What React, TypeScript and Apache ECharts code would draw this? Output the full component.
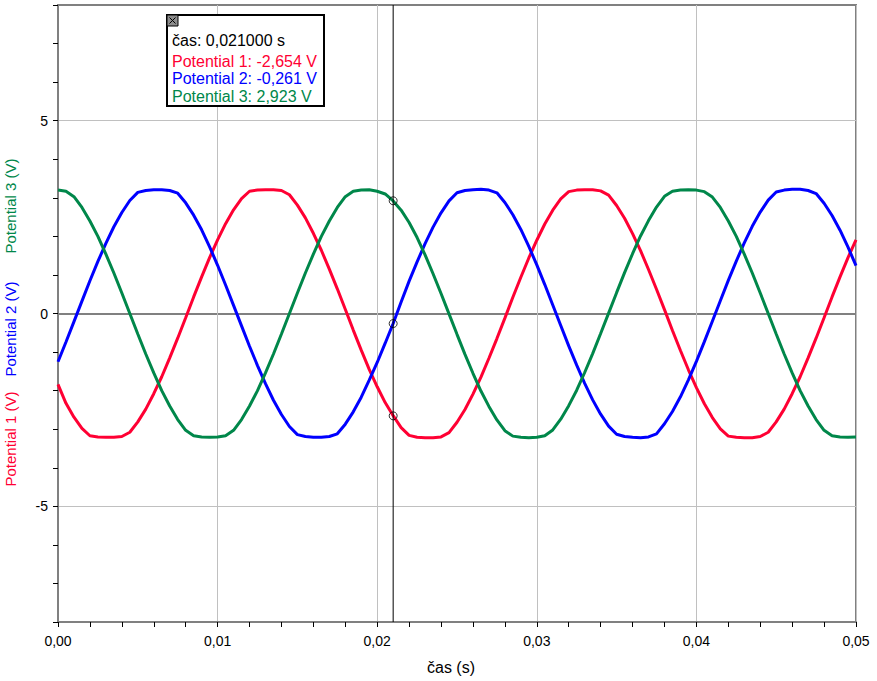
import React, { useEffect, useRef } from "react";
import * as echarts from "echarts";

// Sampling step of the recorded data (s)
const SAMPLE_STEP = 0.0005;
const SAMPLE_COUNT = 101;

// Potential 1 (V) – red
const potential1 = [
  -1.84, -2.33, -2.69, -2.98, -3.17, -3.2, -3.21, -3.21, -3.19, -3.08,
  -2.81, -2.48, -2.08, -1.64, -1.15, -0.64, -0.11, 0.43, 0.95, 1.45,
  1.91, 2.33, 2.69, 2.98, 3.17, 3.2, 3.21, 3.21, 3.19, 3.08,
  2.81, 2.48, 2.08, 1.64, 1.15, 0.64, 0.11, -0.43, -0.95, -1.45,
  -1.9, -2.31, -2.65, -2.96, -3.16, -3.21, -3.22, -3.22, -3.2, -3.09,
  -2.82, -2.49, -2.09, -1.65, -1.16, -0.65, -0.12, 0.42, 0.94, 1.44,
  1.9, 2.32, 2.68, 2.97, 3.16, 3.2, 3.21, 3.21, 3.18, 3.07,
  2.8, 2.47, 2.07, 1.63, 1.14, 0.63, 0.1, -0.44, -0.96, -1.46,
  -1.92, -2.34, -2.7, -2.99, -3.18, -3.21, -3.22, -3.22, -3.19, -3.08,
  -2.81, -2.48, -2.08, -1.64, -1.15, -0.64, -0.11, 0.43, 0.95, 1.45,
  1.91,
];

// Potential 2 (V) – blue
const potential2 = [
  -1.25, -0.74, -0.21, 0.32, 0.85, 1.35, 1.82, 2.25, 2.62, 2.93,
  3.14, 3.19, 3.21, 3.21, 3.19, 3.12, 2.87, 2.55, 2.17, 1.73,
  1.25, 0.74, 0.21, -0.32, -0.85, -1.35, -1.82, -2.25, -2.62, -2.93,
  -3.14, -3.19, -3.21, -3.21, -3.19, -3.12, -2.87, -2.55, -2.17, -1.73,
  -1.27, -0.77, -0.26, 0.3, 0.84, 1.34, 1.81, 2.24, 2.61, 2.92,
  3.13, 3.19, 3.21, 3.22, 3.2, 3.13, 2.88, 2.56, 2.18, 1.74,
  1.26, 0.75, 0.22, -0.31, -0.84, -1.34, -1.81, -2.24, -2.61, -2.92,
  -3.13, -3.19, -3.21, -3.22, -3.2, -3.12, -2.86, -2.54, -2.16, -1.72,
  -1.24, -0.73, -0.2, 0.33, 0.86, 1.36, 1.83, 2.26, 2.63, 2.94,
  3.15, 3.2, 3.22, 3.22, 3.19, 3.11, 2.86, 2.54, 2.16, 1.72,
  1.24,
];

// Potential 3 (V) – green
const potential3 = [
  3.2, 3.17, 3.03, 2.75, 2.4, 2.0, 1.54, 1.05, 0.53, 0.0,
  -0.53, -1.05, -1.54, -2.0, -2.4, -2.75, -3.03, -3.17, -3.2, -3.21,
  -3.2, -3.17, -3.03, -2.75, -2.4, -2.0, -1.54, -1.05, -0.53, 0.0,
  0.53, 1.05, 1.54, 2.0, 2.4, 2.75, 3.03, 3.17, 3.2, 3.21,
  3.17, 3.1, 2.92, 2.68, 2.36, 1.97, 1.52, 1.03, 0.52, -0.01,
  -0.54, -1.06, -1.55, -2.01, -2.41, -2.76, -3.04, -3.18, -3.21, -3.22,
  -3.21, -3.17, -3.02, -2.74, -2.39, -1.99, -1.53, -1.04, -0.52, 0.01,
  0.54, 1.06, 1.55, 2.01, 2.41, 2.76, 3.04, 3.17, 3.2, 3.21,
  3.2, 3.16, 3.02, 2.75, 2.4, 2.0, 1.54, 1.05, 0.53, 0.0,
  -0.53, -1.05, -1.54, -2.0, -2.4, -2.75, -3.03, -3.17, -3.2, -3.21,
  -3.2,
];

const times = Array.from({ length: SAMPLE_COUNT }, (_, i) => +(i * SAMPLE_STEP).toFixed(4));

const seriesNames = ["Potential 1", "Potential 2", "Potential 3"];
const seriesColors = ["#ff0033", "#0000ff", "#00874a"];

// Examine cursor
const cursorTime = 0.021;
const cursorValues = [-2.654, -0.261, 2.923];

// Axes
const xMin = 0;
const xMax = 0.05;
const xInterval = 0.01;
const yMin = -8;
const yMax = 8;
const yLabelStep = 5;

const FONT = '"Liberation Sans", Arial, sans-serif';

const fmt = (v: number, d: number) => v.toFixed(d).replace(".", ",");

export default function App() {
  const ref = useRef<HTMLDivElement>(null);

  useEffect(() => {
    if (!ref.current) return;
    const chart = echarts.init(ref.current, undefined, { renderer: "svg" });

    const all = [potential1, potential2, potential3];
    const yLineColors: string[] = [];
    for (let v = yMin; v <= yMax; v++) {
      yLineColors.push(v !== 0 && v % yLabelStep === 0 ? "#c0c0c0" : "rgba(0,0,0,0)");
    }

    const readout = [
      { text: `čas: ${fmt(cursorTime, 6)} s`, color: "#000", y: 40 },
      ...cursorValues.map((v, i) => ({
        text: `${seriesNames[i]}: ${fmt(v, 3)} V`,
        color: seriesColors[i],
        y: 61 + i * 17.5,
      })),
    ];

    const axisNamePos = [439, 329, 206];

    chart.setOption({
      animation: false,
      backgroundColor: "#fff",
      grid: {
        left: 58,
        right: 21,
        top: 5,
        bottom: 59,
        show: true,
        borderColor: "#808080",
        borderWidth: 2,
      },
      xAxis: {
        type: "value",
        min: xMin,
        max: xMax,
        interval: xInterval,
        name: "čas (s)",
        nameLocation: "middle",
        nameGap: 37,
        nameTextStyle: { color: "#000", fontSize: 16, fontFamily: FONT, padding: [0, 12, 0, 0] },
        axisLine: { onZero: false, lineStyle: { color: "#808080", width: 2 } },
        axisTick: { length: 5, lineStyle: { color: "#000" } },
        minorTick: { show: true, splitNumber: 5, length: 5, lineStyle: { color: "#000" } },
        axisLabel: {
          color: "#000",
          fontSize: 14,
          fontFamily: FONT,
          margin: 12,
          formatter: (v: number) => fmt(v, 2),
        },
        splitLine: { show: true, lineStyle: { color: "#c0c0c0", width: 1 } },
      },
      yAxis: [
        {
          type: "value",
          min: yMin,
          max: yMax,
          interval: 1,
          axisLine: { show: true, onZero: false, lineStyle: { color: "#808080", width: 2 } },
          axisTick: { show: true, length: 5, lineStyle: { color: "#000" } },
          axisLabel: {
            color: "#000",
            fontSize: 14,
            fontFamily: FONT,
            margin: 10,
            formatter: (v: number) => (v % yLabelStep === 0 ? String(v) : ""),
          },
          splitLine: { show: true, lineStyle: { color: yLineColors, width: 1 } },
        },
        {
          type: "value",
          min: yMin,
          max: yMax,
          interval: 8,
          position: "left",
          axisLine: { show: false },
          axisTick: { show: false },
          axisLabel: { show: false },
          splitLine: {
            show: true,
            lineStyle: { color: ["rgba(0,0,0,0)", "#808080"], width: 2 },
          },
        },
      ],
      series: [
        ...all.map((vals, i) => ({
          name: seriesNames[i],
          type: "line",
          data: times.map((t, k) => [t, vals[k]]),
          showSymbol: false,
          symbol: "none",
          lineStyle: { color: seriesColors[i], width: 3 },
          itemStyle: { color: seriesColors[i] },
          z: 3,
          silent: true,
        })),
        {
          name: "cursor line",
          type: "line",
          data: [
            [cursorTime, yMin],
            [cursorTime, yMax],
          ],
          showSymbol: false,
          symbol: "none",
          lineStyle: { color: "#000", width: 1 },
          z: 4,
          silent: true,
        },
        {
          name: "cursor",
          type: "scatter",
          data: cursorValues.map((v) => [cursorTime, v]),
          symbol: "circle",
          symbolSize: 8,
          itemStyle: { color: "rgba(0,0,0,0)", borderColor: "#000", borderWidth: 1 },
          z: 6,
          silent: true,
        },
      ],
      graphic: [
        ...seriesNames.map((n, i) => ({
          type: "text",
          x: 10,
          y: axisNamePos[i],
          rotation: Math.PI / 2,
          silent: true,
          style: {
            text: `${n} (V)`,
            fill: seriesColors[i],
            font: `15px ${FONT}`,
            textAlign: "center",
            textVerticalAlign: "middle",
          },
        })),
        {
          type: "rect",
          shape: { x: 167, y: 15, width: 157, height: 91 },
          style: { fill: "#fff", stroke: "#000", lineWidth: 2 },
          z: 100,
          silent: true,
        },
        {
          type: "rect",
          shape: { x: 167, y: 15, width: 11, height: 11 },
          style: { fill: "#8c8c8c", stroke: "#000", lineWidth: 1 },
          z: 101,
          silent: true,
        },
        {
          type: "line",
          shape: { x1: 169.5, y1: 17.5, x2: 175.5, y2: 23.5 },
          style: { stroke: "#000", lineWidth: 1 },
          z: 102,
          silent: true,
        },
        {
          type: "line",
          shape: { x1: 175.5, y1: 17.5, x2: 169.5, y2: 23.5 },
          style: { stroke: "#000", lineWidth: 1 },
          z: 102,
          silent: true,
        },
        ...readout.map((r) => ({
          type: "text",
          x: 172,
          y: r.y,
          z: 103,
          silent: true,
          style: {
            text: r.text,
            fill: r.color,
            font: `16px ${FONT}`,
            textAlign: "left",
            textVerticalAlign: "middle",
          },
        })),
      ],
    });

    return () => chart.dispose();
  }, []);

  return (
    <div
      ref={ref}
      style={{ position: "fixed", left: 0, top: 0, width: 877, height: 681, background: "#fff" }}
    />
  );
}
